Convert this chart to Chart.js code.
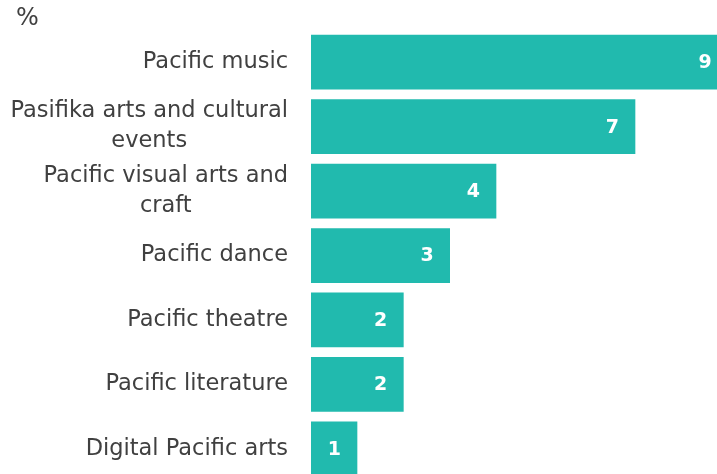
<!DOCTYPE html>
<html>
<head>
<meta charset="utf-8">
<script src="https://cdn.jsdelivr.net/npm/chart.js@4"></script>
<style>
  html, body { margin: 0; padding: 0; overflow: hidden; background: #fff; }
  canvas { display: block; }
</style>
</head>
<body>
<canvas id="chart" width="728" height="511"></canvas>
<script>
var categories = [
    "Pacific music",
    ["Pasifika arts and cultural", "events"],
    ["Pacific visual arts and", "craft"],
    "Pacific dance",
    "Pacific theatre",
    "Pacific literature",
    "Digital Pacific arts"
]
var values = [9, 7, 4, 3, 2, 2, 1]
var unit = "%"

var barColor = "#21BAAE"
var textColor = "#404040"
var fontFamily = "'DejaVu Sans', sans-serif"

// category labels: block right aligned, lines centred inside the block (like the original)
const categoryLabels = {
    id: "categoryLabels",
    afterDraw(chart) {
        const ctx = chart.ctx
        const yScale = chart.scales.y
        const right = chart.chartArea.left - 23
        const lh = 30
        ctx.save()
        ctx.fillStyle = textColor
        ctx.font = "22.5px " + fontFamily
        ctx.textAlign = "center"
        ctx.textBaseline = "middle"
        categories.forEach((label, i) => {
            const lines = Array.isArray(label) ? label : [label]
            const w = Math.max(...lines.map(l => ctx.measureText(l).width))
            const cx = right - w / 2
            const y0 = yScale.getPixelForValue(i) - (lines.length - 1) * lh / 2
            lines.forEach((l, j) => ctx.fillText(l, cx, y0 + j * lh))
        })
        ctx.restore()
    }
}

// unit label top left + white numbers inside the end of each bar
const barLabels = {
    id: "barLabels",
    afterDatasetsDraw(chart) {
        const ctx = chart.ctx
        const meta = chart.getDatasetMeta(0)
        ctx.save()
        ctx.fillStyle = textColor
        ctx.font = "24px " + fontFamily
        ctx.textAlign = "left"
        ctx.textBaseline = "middle"
        ctx.fillText(unit, 16, 19)

        ctx.fillStyle = "#fff"
        ctx.font = "bold 19px " + fontFamily
        ctx.textAlign = "center"
        meta.data.forEach((bar, i) => {
            ctx.fillText(String(values[i]), bar.x - 23, bar.y + 1)
        })
        ctx.restore()
    }
}

new Chart(document.querySelector("#chart"), {
    type: "bar",
    data: {
        labels: categories,
        datasets: [{
            data: values,
            backgroundColor: barColor,
            borderWidth: 0,
            categoryPercentage: 1,
            barPercentage: 0.85
        }]
    },
    options: {
        indexAxis: "y",
        responsive: false,
        animation: false,
        layout: { padding: { left: 0, right: 0, top: 30, bottom: 0 } },
        plugins: {
            legend: { display: false },
            tooltip: { enabled: false }
        },
        scales: {
            x: {
                display: false,
                min: 0,
                max: 9
            },
            y: {
                grid: { display: false },
                border: { display: false },
                ticks: {
                    color: "transparent",
                    padding: 15,
                    font: { family: fontFamily, size: 22.5, lineHeight: 1.33 }
                },
                afterFit(scale) {
                    scale.width = 311
                }
            }
        }
    },
    plugins: [barLabels, categoryLabels]
})
</script>
</body>
</html>
